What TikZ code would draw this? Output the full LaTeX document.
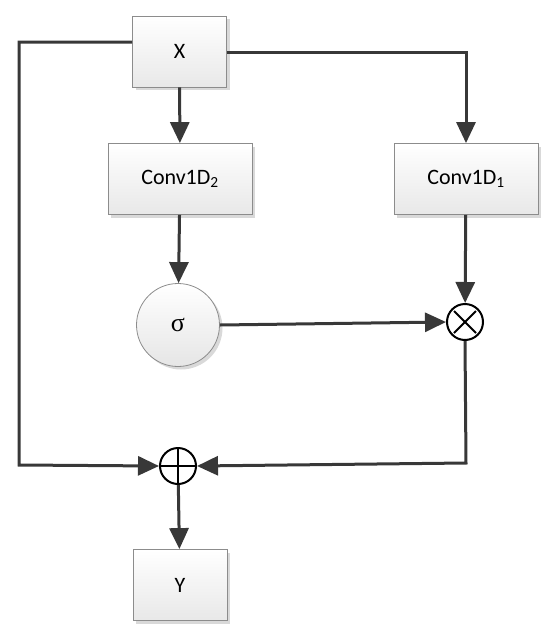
\documentclass[tikz,border=0pt]{standalone}
\usepackage{fontspec}
\setmainfont{Carlito}
\newfontfamily\sigfont{Liberation Serif}
\usetikzlibrary{arrows.meta,shadows,calc}
\begin{document}
\begin{tikzpicture}[x=1pt,y=-1pt,
  box/.style={draw=black!45,line width=0.8pt,top color=white,bottom color=black!9,
    minimum width=94pt,minimum height=71pt,inner sep=0pt,
    font=\fontsize{22}{25}\selectfont,
    drop shadow={shadow xshift=3pt,shadow yshift=-3pt,fill=black!25,opacity=0.6}},
  wbox/.style={box,minimum width=144pt},
  sig/.style={circle,draw=black!45,line width=0.8pt,top color=white,bottom color=black!10,
    minimum size=83pt,inner sep=0pt,
    drop shadow={shadow xshift=3pt,shadow yshift=-3pt,fill=black!25,opacity=0.6}},
  op/.style={circle,draw=black,line width=2pt,minimum size=36pt,inner sep=0pt},
  conn/.style={draw=black!78,line width=3pt,-{Triangle[length=21pt,width=19pt]}},
  plain/.style={draw=black!78,line width=3pt}
]
\useasboundingbox (0,0) rectangle (550,633);
\node[box] (x) at (179.5,51.5) {X};
\node[wbox] (c2) at (180,179) {Conv1D\textsubscript{2}};
\node[wbox] (c1) at (466,179) {Conv1D\textsubscript{1}};
\node[sig] (s) at (178,325) {\sigfont\fontsize{26}{28}\selectfont σ};
\node[op] (m) at (465,322) {};
\draw[line width=2pt] ($(m.center)+(-11,-11)$) -- ($(m.center)+(11,11)$);
\draw[line width=2pt] ($(m.center)+(11,-11)$) -- ($(m.center)+(-11,11)$);
\node[op] (p) at (178,466) {};
\draw[line width=2pt] (p.north) -- (p.south);
\draw[line width=2pt] (p.west) -- (p.east);
\node[box] (y) at (180,585) {Y};
\coordinate (l1) at (19,42);
\coordinate (l2) at (19,465);
\coordinate (r1) at (466,52);
\coordinate (r2) at (466,463);
\draw[conn] (x) -- (c2);
\draw[conn] (c2) -- (s);
\draw[conn] (x.east |- r1) -- (r1) -- (c1);
\draw[conn] (c1) -- (m);
\draw[conn] (s.east) -- (m.west);
\draw[conn] (x.west |- l1) -- (l1) -- (l2) -- (p.west);
\draw[conn] (m.south) -- (r2) -- (p.east);
\draw[conn] (p) -- (y);
\end{tikzpicture}
\end{document}
